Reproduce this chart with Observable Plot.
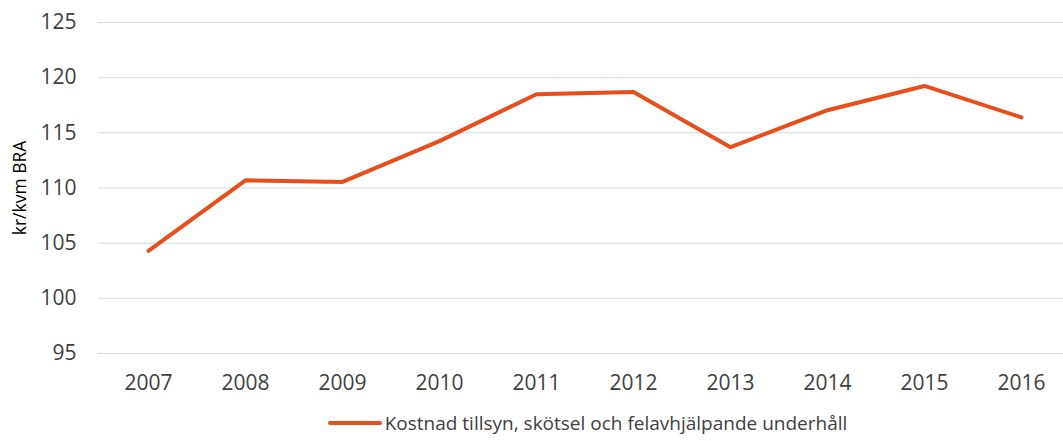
<!DOCTYPE html>
<html><head><meta charset="utf-8">
<script src="https://cdn.jsdelivr.net/npm/d3@7"></script>
<script src="https://cdn.jsdelivr.net/npm/@observablehq/plot@0.6"></script>
<style>
body{margin:0;background:#fff;font-family:"Open Sans",sans-serif;}
#legend{height:36px;display:flex;align-items:center;justify-content:center;color:#404040;font-size:19px;padding-left:112px;}
#legend svg{margin-right:3px;}
</style>
</head><body><div id="chart"></div><div id="legend"></div>
<script>
const years = ["2007","2008","2009","2010","2011","2012","2013","2014","2015","2016"];
const values = [104.3, 110.7, 110.55, 114.25, 118.5, 118.7, 113.7, 117.05, 119.25, 116.4];
const yTicks = [95,100,105,110,115,120,125];
const seriesName = "Kostnad tillsyn, skötsel och felavhjälpande underhåll";
const yLabel = "kr/kvm BRA";
const color = "#E84E1B";
const data = years.map((y,i)=>({year:y, value:values[i]}));

const plot = Plot.plot({
  width:1063, height:405, marginLeft:98, marginRight:0, marginTop:22, marginBottom:52,
  style:{fontFamily:"Open Sans", fontSize:"21px", color:"#404040", background:"#fff"},
  x:{type:"point", domain:years, range:[147,1022], padding:0, label:null},
  y:{domain:[95,125], label:null},
  marks:[
    Plot.ruleY(yTicks,{stroke:"#d9d9d9", strokeWidth:1}),
    Plot.axisY({ticks:yTicks, tickSize:0, tickPadding:22, label:null, fontSize:21}),
    Plot.axisX({tickSize:0, tickPadding:22, label:null, fontSize:21}),
    Plot.text([yLabel],{frameAnchor:"left", textAnchor:"middle", rotate:-90, dx:-78, fontSize:17.5, fill:"#000"}),
    Plot.line(data,{x:"year", y:"value", stroke:color, strokeWidth:4, strokeLinecap:"round"})
  ]
});
document.getElementById("chart").appendChild(plot);
document.getElementById("legend").innerHTML =
  `<svg width="54" height="10"><line x1="2" x2="52" y1="5" y2="5" stroke="${color}" stroke-width="4" stroke-linecap="round"/></svg><span>${seriesName}</span>`;
</script>
</body></html>
